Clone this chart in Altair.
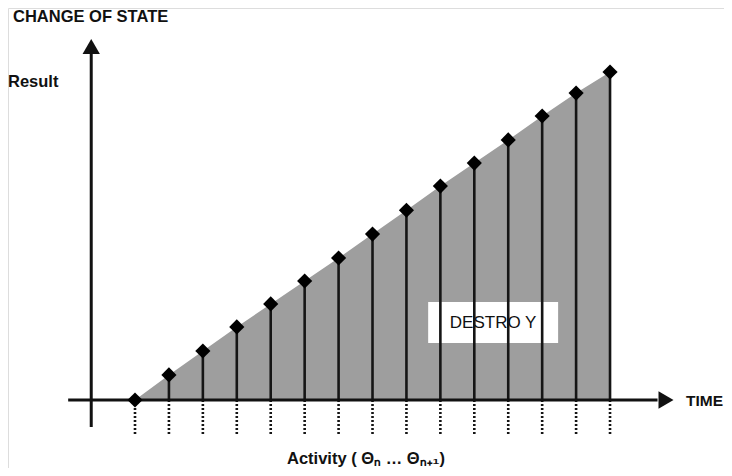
import altair as alt
import pandas as pd

# Data
activity = [0, 1, 2, 3, 4, 5, 6, 7, 8, 9, 10, 11, 12, 13, 14]
result = [0, 1.07, 2.09, 3.12, 4.1, 5.08, 6.06, 7.08, 8.1, 9.13, 10.11, 11.1, 12.12, 13.1, 14.0]

# Axis extents (data units)
x_axis_start = -1.97
x_axis_end = 15.4
x_arrow_center = 15.65
y_axis_bottom = -1.15
y_axis_end = 14.8
y_arrow_center = 15.09
dotted_bottom = -1.54
y_axis_x = -1.29

box_x = [8.64, 12.47]
box_y = [2.43, 4.18]
box_label = "DESTRO Y"

df = pd.DataFrame({"t": activity, "r": result, "zero": [0] * len(activity),
                   "low": [dotted_bottom] * len(activity)})

W, H = 716, 460
xs = alt.Scale(domain=[-3.743, 17.359], nice=False, zero=False)
ys = alt.Scale(domain=[-2.902, 16.73], nice=False, zero=False)

base = alt.Chart(df)
X = lambda f: alt.X(f, type="quantitative", scale=xs, axis=None)
Y = lambda f: alt.Y(f, type="quantitative", scale=ys, axis=None)

area = base.mark_area(color="#9e9e9e", opacity=1).encode(
    x=X("t"), y=Y("r"), y2="zero:Q")

box = alt.Chart(pd.DataFrame({"x": [box_x[0]], "x2": [box_x[1]],
                              "y": [box_y[0]], "y2": [box_y[1]]})).mark_rect(
    color="white").encode(x=X("x"), x2="x2:Q", y=Y("y"), y2="y2:Q")

box_text = alt.Chart(pd.DataFrame({"x": [(box_x[0] + box_x[1]) / 2],
                                   "y": [3.08],
                                   "label": [box_label]})).mark_text(
    font="Liberation Sans", fontSize=17, color="#111", align="center",
    baseline="alphabetic").encode(x=X("x"), y=Y("y"), text="label:N")

stems = base.mark_rule(color="#151515", strokeWidth=2.6).encode(
    x=X("t"), y=Y("r"), y2="zero:Q")

dots = base.mark_rule(color="#151515", strokeWidth=2.6, strokeDash=[2, 2]).encode(
    x=X("t"), y=Y("zero"), y2="low:Q")

axes_df = pd.DataFrame({
    "x": [x_axis_start, y_axis_x], "x2": [x_axis_end, y_axis_x],
    "y": [0, y_axis_bottom], "y2": [0, y_axis_end]})
axes = alt.Chart(axes_df).mark_rule(color="#111", strokeWidth=3).encode(
    x=X("x"), x2="x2:Q", y=Y("y"), y2="y2:Q")

arrow_r = alt.Chart(pd.DataFrame({"x": [x_arrow_center], "y": [0]})).mark_point(
    shape="triangle-right", filled=True, color="#111", size=300, opacity=1).encode(
    x=X("x"), y=Y("y"))
arrow_u = alt.Chart(pd.DataFrame({"x": [y_axis_x], "y": [y_arrow_center]})).mark_point(
    shape="triangle-up", filled=True, color="#111", size=300, opacity=1).encode(
    x=X("x"), y=Y("y"))

points = base.mark_point(shape="diamond", filled=True, color="#000", size=230,
                         opacity=1).encode(x=X("t"), y=Y("r"))

labels_df = pd.DataFrame({
    "px": [5, 0, 678, 279],
    "py": [13.5, 79, 398, 456],
    "size": [16.5, 16.5, 15.5, 16.5],
    "label": ["CHANGE OF STATE", "Result", "TIME", "Activity ( Θₙ … Θₙ₊₁)"],
})
labels = alt.Chart(labels_df).mark_text(
    font="Liberation Sans", fontWeight="bold", color="#111",
    align="left", baseline="alphabetic").encode(
    x=alt.X("px:Q", scale=None, axis=None), y=alt.Y("py:Q", scale=None, axis=None),
    size=alt.Size("size:Q", scale=None, legend=None),
    text="label:N")

chart = alt.layer(area, box, box_text, stems, dots, axes, arrow_r, arrow_u, points,
                  labels).properties(
    width=W, height=H, padding=0, autosize=alt.AutoSizeParams(type="none")
).configure_view(stroke="transparent").configure(background="white")

chart.save("out.html", embed_options={"renderer": "svg", "actions": False})
